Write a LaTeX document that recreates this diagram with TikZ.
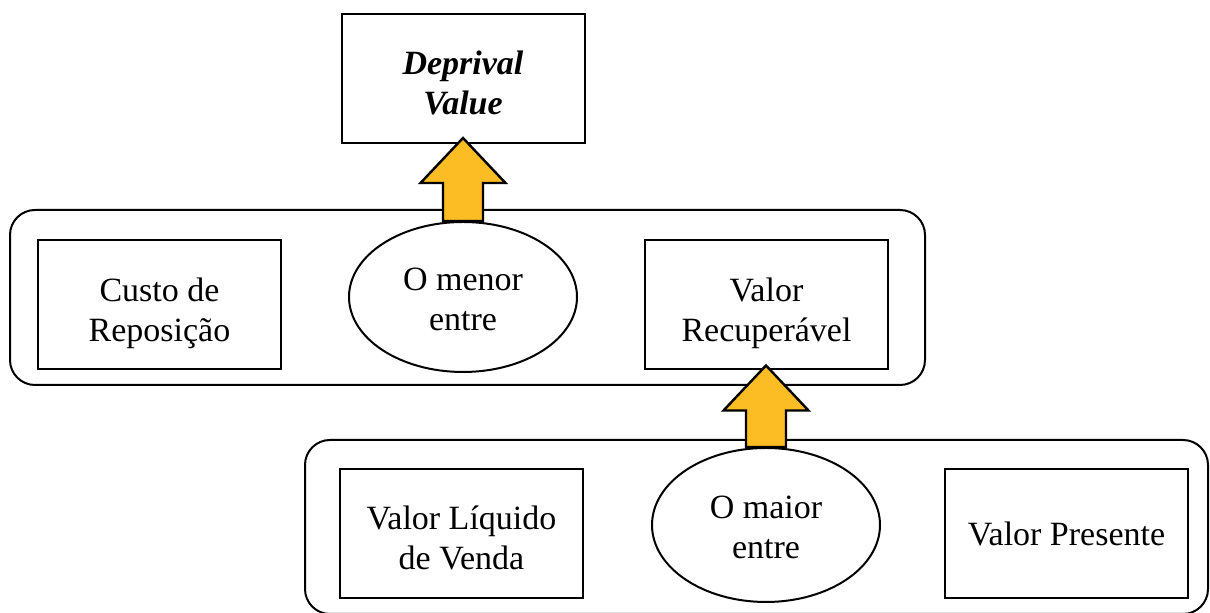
\documentclass[tikz,border=0pt]{standalone}
\usepackage{fontspec}
\setmainfont{Liberation Serif}
\usepackage{tikz}
\usetikzlibrary{calc, shapes.geometric}
\definecolor{ArrowGold}{HTML}{FBBC24}
\tikzset{
  valuebox/.style={rectangle, draw=black, line width=1pt, minimum width=121.5pt, minimum height=64.5pt, align=center, font=\fontsize{17}{20}\selectfont},
  choiceoval/.style={ellipse, draw=black, line width=1pt, minimum width=114pt, minimum height=75pt, inner sep=0pt, align=center, font=\fontsize{17}{20}\selectfont},
  groupbox/.style={draw=black, line width=1pt, rounded corners=12.5pt},
  blockarrow/.style={draw=black, line width=1.2pt, fill=ArrowGold, line join=miter}
}
% invisible strut that pushes the first line down a little
\newcommand{\dropstrut}[1]{\rule{0pt}{#1}}
% block arrow from #1 (bottom) up to the tip #2
\newcommand{\liftarrow}[2]{%
  \draw[blockarrow] ($(#1)+(-20,0)$) -- ($(#2)+(-20,-45)$) -- ($(#2)+(-42.5,-45)$) -- (#2)
    -- ($(#2)+(42.5,-45)$) -- ($(#2)+(20,-45)$) -- ($(#1)+(20,0)$) -- cycle;}

\begin{document}
\begin{tikzpicture}[x=0.5pt, y=0.5pt]
  \useasboundingbox (0,0) rectangle (1210,613);

  % Groups
  \draw[groupbox] (10,228) rectangle (925,403);
  \draw[groupbox] (305,-1) rectangle (1208,173);

  % Top result
  \node[valuebox] (deprival) at (463,534.5) {\dropstrut{16pt}\textbf{\textit{Deprival}}\\\textbf{\textit{Value}}};

  % Upper group
  \node[valuebox] (custo) at (159.5,308) {\dropstrut{20pt}Custo de\\Reposição};
  \node[choiceoval] (menor) at (463,316) {\dropstrut{14pt}O menor\\entre};
  \node[valuebox] (recup) at (766.5,308) {\dropstrut{20pt}Valor\\Recuperável};

  % Lower group
  \node[valuebox] (liquido) at (461.5,79) {\dropstrut{16pt}Valor Líquido\\de Venda};
  \node[choiceoval, minimum height=77pt] (maior) at (766,88) {\dropstrut{14pt}O maior\\entre};
  \node[valuebox] (presente) at (1066.5,79) {Valor Presente};

  % Arrows
  \coordinate (tipA) at ($(menor.north |- deprival.south)+(0,6)$);
  \coordinate (tipB) at ($(maior.north |- recup.south)+(0,5)$);
  \liftarrow{menor.north}{tipA}
  \liftarrow{maior.north}{tipB}
\end{tikzpicture}
\end{document}
